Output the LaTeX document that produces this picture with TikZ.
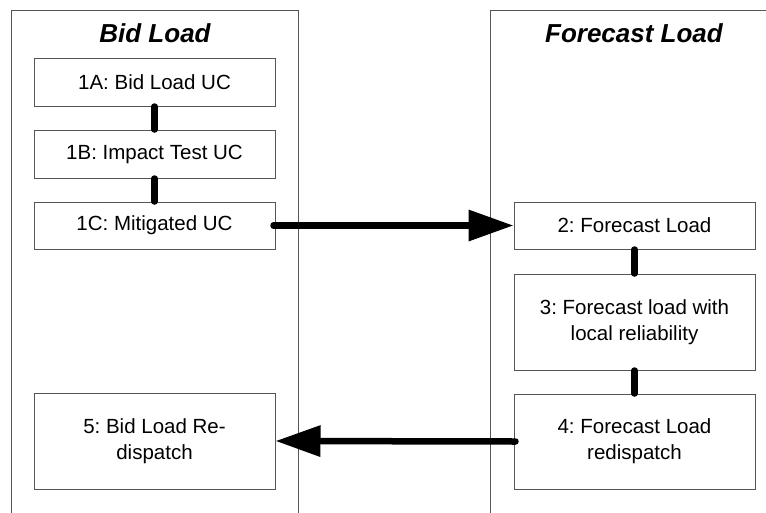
\documentclass[tikz,border=0pt]{standalone}
\usepackage{fontspec}
\setmainfont{Liberation Sans}
\usetikzlibrary{arrows.meta}
\definecolor{edgegray}{RGB}{85,85,85}
\tikzset{
  ucbox/.style={draw=edgegray, line width=1pt, fill=white, minimum width=241pt, inner sep=0pt,
    align=center, font=\fontsize{20.5}{26}\selectfont\frenchspacing},
  lanetitle/.style={font=\fontsize{26}{30}\selectfont\bfseries\itshape, inner sep=0pt},
  lane/.style={draw=edgegray, line width=1pt},
  link/.style={line width=6.5pt, line cap=round},
  flow/.style={line width=6.5pt, line cap=round, -{Triangle[length=45pt,width=30pt]}}
}
\begin{document}
\begin{tikzpicture}[x=1pt,y=-1pt]
\useasboundingbox (0,0) rectangle (766,512);
% lanes
\draw[lane] (11,520) -- (11,10) -- (298,10) -- (298,520);
\draw[lane] (490,520) -- (490,10) -- (770,10);
\node[lanetitle] (tbid) at (155,33) {Bid Load};
\node[lanetitle] (tfc) at (634,33) {Forecast Load};
% left boxes
\node[ucbox, minimum height=48pt] (a1) at (154.5,82) {1A: Bid Load UC};
\node[ucbox, minimum height=48pt] (b1) at (154.5,154) {1B: Impact Test UC};
\node[ucbox, minimum height=47pt] (c1) at (154.5,225.5) {1C: Mitigated UC};
\node[ucbox, minimum height=96pt] (r5) at (154.5,441) {5: Bid Load Re-\\dispatch};
% right boxes
\node[ucbox, minimum height=47pt] (f2) at (634.5,225.5) {2: Forecast Load};
\node[ucbox, minimum height=96pt] (f3) at (634.5,322) {3: Forecast load with\\local reliability};
\node[ucbox, minimum height=95pt] (f4) at (634.5,441.5) {4: Forecast Load\\redispatch};
% links
\draw[link] (a1.south) -- (b1.north);
\draw[link] (b1.south) -- (c1.north);
\draw[link] (f2.south) -- (f3.north);
\draw[link] (f3.south) -- (f4.north);
% flows
\draw[flow] ([xshift=-2pt]c1.east) -- (f2.west);
\draw[flow] ([xshift=2pt]f4.west) -- (r5.east);
\end{tikzpicture}
\end{document}
